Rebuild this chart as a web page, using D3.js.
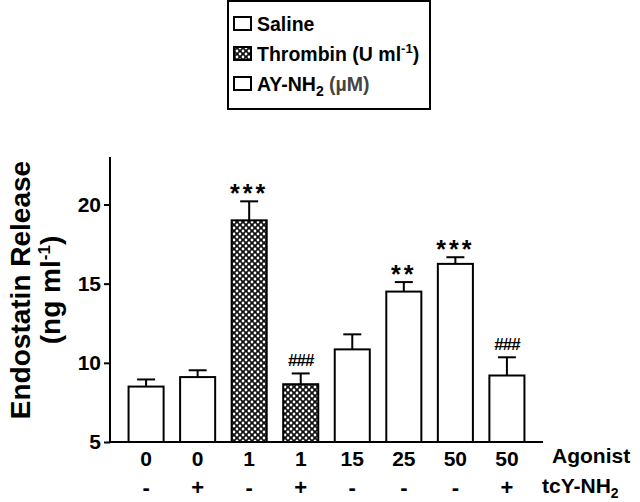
<!DOCTYPE html>
<meta charset="utf-8">
<style>
body { margin: 0; background: #fff; }
text { font-family: "Liberation Sans", Arial, sans-serif; }
</style>
<svg width="640" height="502"></svg>
<script src="https://d3js.org/d3.v7.min.js"></script>
<script>
// data
var agonist = ["0", "0", "1", "1", "15", "25", "50", "50"];
var tcy = ["-", "+", "-", "+", "-", "-", "-", "+"];
var group = ["saline", "saline", "thrombin", "thrombin", "ay", "ay", "ay", "ay"];
var means = [8.5, 9.1, 19.0, 8.65, 10.85, 14.5, 16.25, 9.2];
var sems = [0.45, 0.43, 1.2, 0.68, 0.95, 0.6, 0.42, 1.15];
var marks = ["", "", "***", "###", "", "**", "***", "###"];
var yTicks = [5, 10, 15, 20];
var legendLabels = ["Saline", "Thrombin", "AY-NH"];

var svg = d3.select("svg");

var x = d3.scaleBand()
    .domain(d3.range(means.length))
    .range([110, 543])
    .paddingInner(0.32)
    .paddingOuter(0.36);

var y = d3.scaleLinear()
    .domain([5, 23])
    .range([442, 157]);

// cross-hatch fill for thrombin
var defs = svg.append("defs");
var pat = defs.append("pattern")
    .attr("id", "hatch")
    .attr("patternUnits", "userSpaceOnUse")
    .attr("width", 6).attr("height", 6);
pat.append("rect").attr("width", 6).attr("height", 6).attr("fill", "#111");
[[0, 0], [6, 0], [0, 6], [6, 6], [3, 3]].forEach(function(p) {
  pat.append("circle").attr("cx", p[0]).attr("cy", p[1]).attr("r", 1.4).attr("fill", "#fff");
});

function fillFor(g) { return g == "thrombin" ? "url(#hatch)" : "#fff"; }

// bars
var bars = svg.append("g");
bars.selectAll("rect")
    .data(means)
    .enter().append("rect")
    .attr("x", function(d, i) { return x(i); })
    .attr("y", function(d) { return y(d); })
    .attr("width", x.bandwidth())
    .attr("height", function(d) { return y(5) - y(d); })
    .attr("fill", function(d, i) { return fillFor(group[i]); })
    .attr("stroke", "#000")
    .attr("stroke-width", 2);

// error bars (upper only)
var err = svg.append("g").attr("stroke", "#000").attr("stroke-width", 2);
means.forEach(function(m, i) {
  var cx = x(i) + x.bandwidth() / 2;
  err.append("line").attr("x1", cx).attr("x2", cx).attr("y1", y(m)).attr("y2", y(m + sems[i]));
  err.append("line").attr("x1", cx - 9).attr("x2", cx + 9).attr("y1", y(m + sems[i])).attr("y2", y(m + sems[i]));
});

// significance marks
svg.append("g").selectAll("text")
    .data(marks)
    .enter().append("text")
    .attr("x", function(d, i) { return x(i) + x.bandwidth() / 2; })
    .attr("y", function(d, i) {
      var top = y(means[i] + sems[i]);
      return d.charAt(0) == "*" ? top + 1 : top - 7;
    })
    .attr("text-anchor", "middle")
    .style("font-size", function(d) { return d.charAt(0) == "*" ? "25px" : "17px"; })
    .style("font-weight", "bold")
    .style("letter-spacing", function(d) { return d.charAt(0) == "*" ? "3px" : "-1px"; })
    .text(function(d) { return d; });

// axes
var yAxis = svg.append("g")
    .attr("transform", "translate(110,0)")
    .call(d3.axisLeft(y).tickValues(yTicks).tickSize(6).tickPadding(3).tickFormat(d3.format("d")));
yAxis.select(".domain").remove();
yAxis.selectAll("line").attr("stroke-width", 2);
yAxis.selectAll("text").style("font-size", "21px").style("font-weight", "bold")
    .style("font-family", "Liberation Sans, Arial, sans-serif").attr("fill", "#000");

svg.append("line").attr("x1", 110).attr("x2", 110).attr("y1", 157).attr("y2", 443)
    .attr("stroke", "#000").attr("stroke-width", 2);
svg.append("line").attr("x1", 109).attr("x2", 543).attr("y1", y(5)).attr("y2", y(5))
    .attr("stroke", "#000").attr("stroke-width", 2);

// category labels
var lab = svg.append("g").style("font-weight", "bold").attr("text-anchor", "middle");
lab.selectAll(".ag").data(agonist).enter().append("text")
    .attr("x", function(d, i) { return x(i) + x.bandwidth() / 2; })
    .attr("y", 466).style("font-size", "21px").text(function(d) { return d; });
lab.selectAll(".tc").data(tcy).enter().append("text")
    .attr("x", function(d, i) { return x(i) + x.bandwidth() / 2; })
    .attr("y", 495).style("font-size", "22px").text(function(d) { return d; });

svg.append("text").attr("x", 552).attr("y", 463)
    .style("font-size", "21px").style("font-weight", "bold").text("Agonist");
var tc = svg.append("text").attr("x", 542).attr("y", 493)
    .style("font-size", "21px").style("font-weight", "bold");
tc.append("tspan").text("tcY-NH");
tc.append("tspan").attr("dy", 5).style("font-size", "14px").text("2");

// y title
var yt = svg.append("g").attr("transform", "translate(30,290) rotate(-90)")
    .attr("text-anchor", "middle").style("font-weight", "bold").style("font-size", "28px");
yt.append("text").attr("x", 0).attr("y", 0).text("Endostatin Release");
var yt2 = yt.append("text").attr("x", 0).attr("y", 30);
yt2.append("tspan").text("(ng ml");
yt2.append("tspan").attr("dy", -10).style("font-size", "17px").text("-1");
yt2.append("tspan").attr("dy", 10).text(")");

// legend
var leg = svg.append("g");
leg.append("rect").attr("x", 228).attr("y", 1).attr("width", 202).attr("height", 108)
    .attr("fill", "none").attr("stroke", "#000").attr("stroke-width", 2);
var rows = [24, 54, 84];
var legFill = ["saline", "thrombin", "ay"];
leg.selectAll(".sw").data(legendLabels).enter().append("rect")
    .attr("x", 234).attr("y", function(d, i) { return rows[i] - 7; })
    .attr("width", 17).attr("height", 13)
    .attr("fill", function(d, i) { return fillFor(legFill[i]); })
    .attr("stroke", "#000").attr("stroke-width", 2);
var lt = leg.selectAll(".lt").data(legendLabels).enter().append("text")
    .attr("x", 257).attr("y", function(d, i) { return rows[i] + 7; })
    .style("font-size", "19.5px").style("font-weight", "bold");
lt.each(function(d, i) {
  var t = d3.select(this);
  t.append("tspan").text(d);
  if (i == 1) {
    t.append("tspan").text(" (U ml");
    t.append("tspan").attr("dy", -8).style("font-size", "13px").text("-1");
    t.append("tspan").attr("dy", 8).text(")");
  }
  if (i == 2) {
    t.append("tspan").attr("dy", 5).style("font-size", "14px").text("2");
    t.append("tspan").attr("dy", -5).attr("fill", "#444").text(" (\u00b5M)");
  }
});
</script>
